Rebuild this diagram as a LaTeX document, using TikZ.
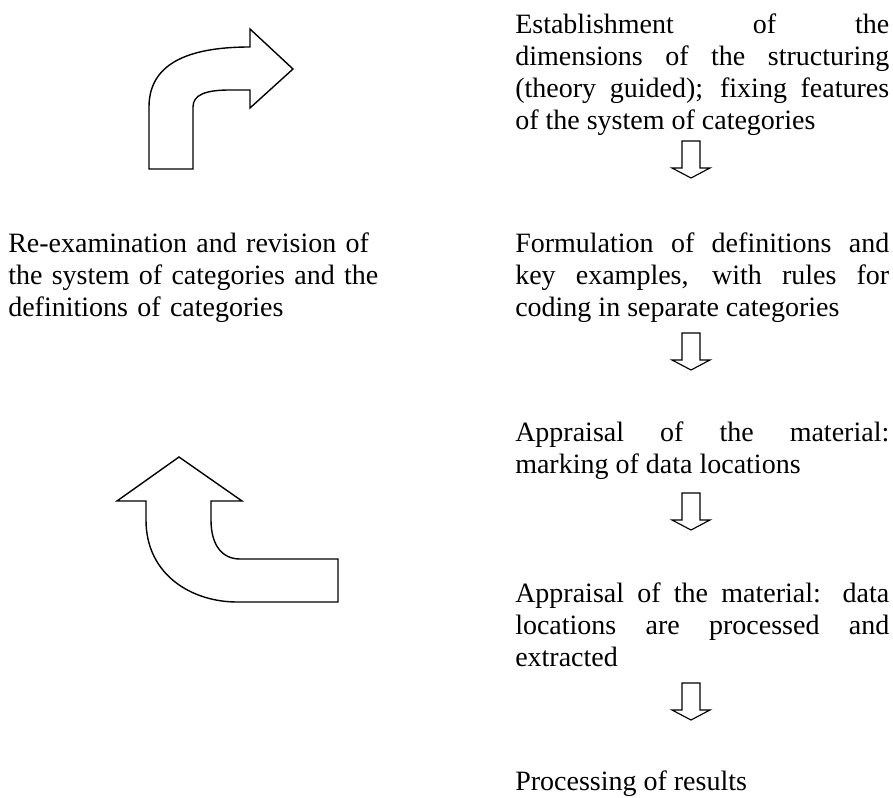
\documentclass[tikz,border=0pt]{standalone}
\usepackage{fontspec}
\setmainfont{Liberation Serif}
\tikzset{
  >=latex,
}
\tikzstyle{outline}=[line width=1.05pt,line join=miter]
\tikzstyle{smallarrow}=[line width=0.85pt,line join=miter]
\tikzstyle{stage}=[anchor=north west,inner sep=0pt,font=\fontsize{21}{24}\selectfont,text width=280.5pt,align=justify]
\tikzstyle{note}=[anchor=north west,inner sep=0pt,font=\fontsize{21}{24}\selectfont,text width=290pt,align=left]

\begin{document}
\begin{tikzpicture}[x=0.75pt,y=-0.75pt]
    \useasboundingbox (0,0) rectangle (893,798);

    \node[stage] (establish) at (515,10.6) {\strut Establishment of the\linebreak
      dimensions of the structuring\linebreak
      (theory guided); fixing features\linebreak
      of the system of categories};
    \node[stage] (formulate) at (515,229.6) {\strut Formulation of definitions and\linebreak
      key examples, with rules for\linebreak
      coding in separate categories};
    \node[stage] (marking) at (515,418.6) {\strut Appraisal of the material:\linebreak
      marking of data locations};
    \node[stage] (extract) at (515,579.6) {\strut Appraisal of the material: data\linebreak
      locations are processed and\linebreak
      extracted};
    \node[stage] (results) at (515,767.6) {\strut Processing of results};

    \node[note] (revise) at (8,229.6) {\strut Re-examination and revision of\\
      the system of categories and the\\
      definitions of categories};

    \foreach \t in {141,333,493,683}
      \draw[smallarrow] (682,\t) -- (700,\t) -- (700,\t+27) -- (710,\t+27)
        -- (691,\t+37) -- (672,\t+27) -- (682,\t+27) -- cycle;

    \draw[outline] (149,169) -- (149,107) .. controls (149,60) and (195,47) .. (250,47)
      -- (250,29) -- (293,69) -- (250,108) -- (250,90) -- (230,90)
      .. controls (205,90) and (193,95) .. (193,107) -- (193,169) -- cycle;

    \draw[outline] (146,501) -- (117,501) -- (179,457) -- (242,501) -- (211,501)
      -- (211,520) .. controls (211,545) and (222,559) .. (240,559) -- (338,559)
      -- (338,602) -- (237,602) .. controls (192,602) and (146,575) .. (146,520) -- cycle;
  \end{tikzpicture}
\end{document}
